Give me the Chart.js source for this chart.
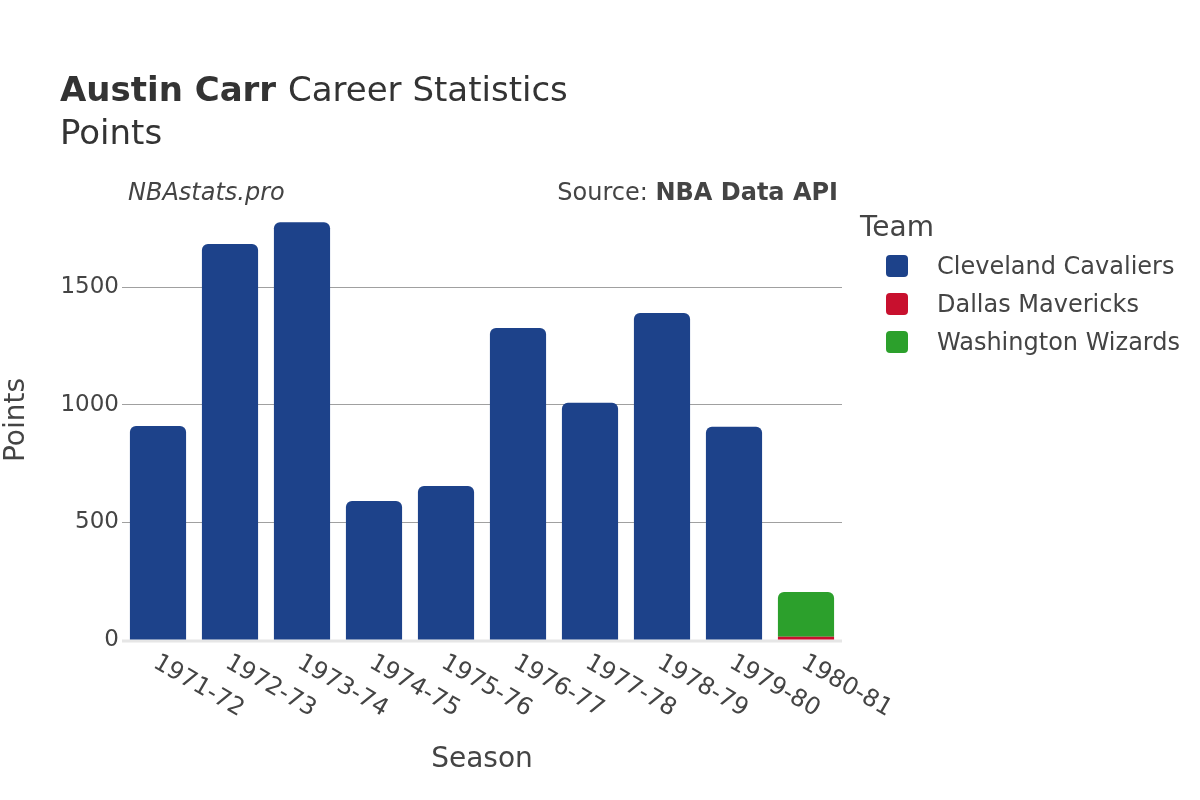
<!DOCTYPE html>
<html>
<head>
<meta charset="utf-8">
<script src="https://cdn.jsdelivr.net/npm/chart.js@4.4.1/dist/chart.umd.min.js"></script>
<style>
  html, body { margin: 0; padding: 0; background: #fff; }
  #wrap { width: 1200px; height: 800px; position: relative; }
</style>
</head>
<body>
<div id="wrap"><canvas id="chart" width="1200" height="800"></canvas></div>
<script>
// seasons on the x axis
const seasons = ["1971-72", "1972-73", "1973-74", "1974-75", "1975-76", "1976-77", "1977-78", "1978-79", "1979-80", "1980-81"];
// points per team (null = did not play for that team)
const cavaliersPts = [910, 1683, 1775, 591, 655, 1326, 1008, 1390, 906, null];
const mavericksPts = [null, null, null, null, null, null, null, null, null, 14];
const wizardsPts = [null, null, null, null, null, null, null, null, null, 190];
const teamNames = ["Cleveland Cavaliers", "Dallas Mavericks", "Washington Wizards"];
const teamColors = ["#1d428a", "#c8102e", "#2ca02c"];
const yTicks = [0, 500, 1000, 1500];

const FONT = "'DejaVu Sans', sans-serif";
const TXT = "#444";

// titles, x labels, legend etc. drawn by hand
const extrasPlugin = {
  id: "extras",
  beforeDatasetsDraw(chart) {
    const { ctx, chartArea, scales } = chart;
    const y0 = scales.y.getPixelForValue(0);
    ctx.save();
    ctx.strokeStyle = "#e6e6e6";
    ctx.lineWidth = 3;
    ctx.beginPath();
    ctx.moveTo(chartArea.left, y0 + 1);
    ctx.lineTo(chartArea.right, y0 + 1);
    ctx.stroke();
    ctx.restore();
  },
  afterDraw(chart) {
    const { ctx, scales } = chart;
    ctx.save();
    ctx.fillStyle = "#333";
    ctx.textBaseline = "alphabetic";
    ctx.textAlign = "left";

    // title
    ctx.font = "bold 34px " + FONT;
    ctx.fillText("Austin Carr", 60, 101);
    const w = ctx.measureText("Austin Carr ").width;
    ctx.font = "34px " + FONT;
    ctx.fillText("Career Statistics", 60 + w, 101);
    ctx.fillText("Points", 60, 144);

    // watermark + source
    ctx.fillStyle = TXT;
    ctx.font = "italic 24px " + FONT;
    ctx.fillText("NBAstats.pro", 128, 200);
    ctx.textAlign = "right";
    ctx.font = "bold 24px " + FONT;
    ctx.fillText("NBA Data API", 838, 200);
    const bw = ctx.measureText("NBA Data API").width;
    ctx.font = "24px " + FONT;
    ctx.fillText("Source: ", 838 - bw, 200);

    // x tick labels, rotated
    ctx.textAlign = "left";
    ctx.textBaseline = "middle";
    ctx.font = "24px " + FONT;
    seasons.forEach((s, i) => {
      const x = scales.x.getPixelForValue(i);
      ctx.save();
      ctx.translate(x - 3, 661);
      ctx.rotate(Math.PI / 6);
      ctx.fillText(s, 0, 0);
      ctx.restore();
    });

    // axis titles
    ctx.textAlign = "center";
    ctx.font = "28px " + FONT;
    ctx.fillText("Season", 482, 760);
    ctx.save();
    ctx.translate(17, 420);
    ctx.rotate(-Math.PI / 2);
    ctx.fillText("Points", 0, 0);
    ctx.restore();

    // legend
    ctx.textAlign = "left";
    ctx.font = "28px " + FONT;
    ctx.fillText("Team", 860, 229);
    ctx.font = "24px " + FONT;
    teamNames.forEach((name, i) => {
      const cy = 266 + i * 38;
      ctx.fillStyle = teamColors[i];
      ctx.beginPath();
      ctx.roundRect(886, cy - 11, 22, 22, 4);
      ctx.fill();
      ctx.fillStyle = TXT;
      ctx.fillText(name, 937, cy + 2);
    });
    ctx.restore();
  }
};

const topRound = { topLeft: 6, topRight: 6, bottomLeft: 0, bottomRight: 0 };

new Chart(document.getElementById("chart"), {
  type: "bar",
  data: {
    labels: seasons,
    datasets: [
      { label: teamNames[0], data: cavaliersPts, backgroundColor: teamColors[0], borderRadius: topRound, borderSkipped: false },
      { label: teamNames[1], data: mavericksPts, backgroundColor: teamColors[1], borderRadius: 0, borderSkipped: false },
      { label: teamNames[2], data: wizardsPts, backgroundColor: teamColors[2], borderRadius: topRound, borderSkipped: false }
    ]
  },
  options: {
    responsive: false,
    animation: false,
    layout: { padding: { left: 0, top: 200, right: 358, bottom: 0 } },
    plugins: {
      legend: { display: false },
      title: { display: false },
      tooltip: { enabled: false }
    },
    datasets: { bar: { barPercentage: 0.78, categoryPercentage: 1 } },
    scales: {
      x: {
        stacked: true,
        grid: { display: false },
        border: { display: false },
        ticks: { display: false },
        afterFit(scale) { scale.height = 160; }
      },
      y: {
        stacked: true,
        min: 0,
        max: 1870,
        border: { display: false },
        grid: {
          drawTicks: false,
          color: (c) => (c.tick && c.tick.value === 0 ? "rgba(0,0,0,0)" : "#a0a0a0"),
          lineWidth: 1
        },
        afterBuildTicks(scale) { scale.ticks = yTicks.map((v) => ({ value: v })); },
        ticks: {
          padding: 3,
          color: TXT,
          font: { family: FONT, size: 23 },
          callback: (v) => String(v)
        },
        afterFit(scale) { scale.width = 122; }
      }
    }
  },
  plugins: [extrasPlugin]
});
</script>
</body>
</html>
